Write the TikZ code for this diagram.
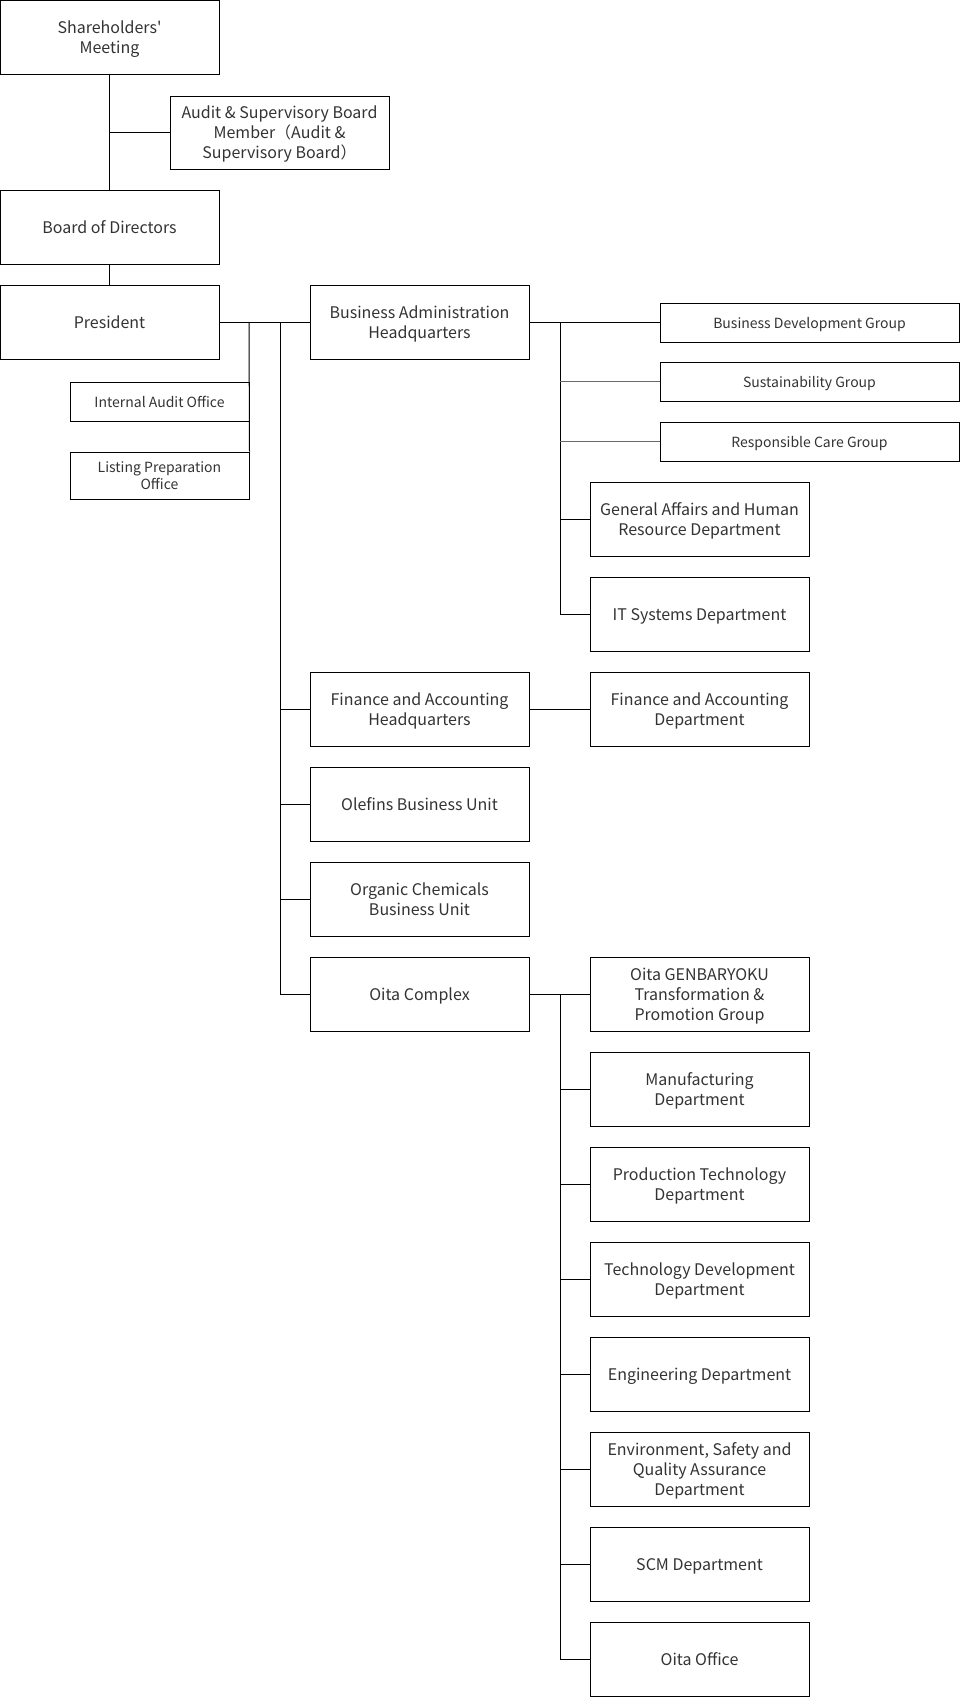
\documentclass[tikz,border=0pt]{standalone}
\usepackage{fontspec}
\setmainfont{Noto Sans CJK JP}[Ligatures=TeXOff]
\definecolor{txt}{HTML}{333333}
\definecolor{linegray}{HTML}{6A6A6A}
\newcommand\fls{\rule{0pt}{1.0625em}}
\begin{document}
\begin{tikzpicture}[x=1pt,y=-1pt,
  box/.style={draw=black, line width=1pt, text=txt, align=center, inner sep=0pt,
    font=\fontsize{16}{20}\selectfont, minimum width=219pt, minimum height=74pt,
    execute at begin node={\rule{0pt}{17pt}},
    execute at end node={\rule[-4.6pt]{0pt}{0pt}}},
  sbox/.style={box, font=\fontsize{14}{17}\selectfont,
    execute at begin node={\rule{0pt}{14.9pt}},
    execute at end node={\rule[-4pt]{0pt}{0pt}}},
  conn/.style={line width=1pt, draw=black},
  gconn/.style={line width=1pt, draw=linegray}]
\useasboundingbox (0,0) rectangle (960,1697);
% top chain
\node[box] (sh) at (109.5,37) {\fls Shareholders'\\Meeting};
\node[box, minimum height=73pt] (aud) at (279.5,132.5) {\fls Audit \& Supervisory Board\\Member（Audit \&\\Supervisory Board）};
\node[box] (bod) at (109.5,227) {Board of Directors};
\node[box] (pres) at (109.5,322.5) {President};
\node[sbox, minimum width=179pt, minimum height=39pt] (iao) at (159.5,401.5) {Internal Audit Office};
\node[sbox, minimum width=179pt, minimum height=47pt] (lpo) at (159.5,475.5) {\fls Listing Preparation\\Office};
% second column
\node[box] (bahq) at (419.5,322.5) {\fls Business Administration\\Headquarters};
\node[box] (fahq) at (419.5,709) {\fls Finance and Accounting\\Headquarters};
\node[box] (ole) at (419.5,804) {Olefins Business Unit};
\node[box] (org) at (419.5,899) {\fls Organic Chemicals\\Business Unit};
\node[box] (oc) at (419.5,994.5) {Oita Complex};
% groups
\node[sbox, minimum width=299pt, minimum height=39pt] (bdg) at (809.5,322.5) {Business Development Group};
\node[sbox, minimum width=299pt, minimum height=39pt] (sus) at (809.5,381.5) {Sustainability Group};
\node[sbox, minimum width=299pt, minimum height=39pt] (rcg) at (809.5,441.5) {Responsible Care Group};
% third column
\node[box] (gahr) at (699.5,519.5) {\fls General Affairs and Human\\Resource Department};
\node[box] (its) at (699.5,614) {IT Systems Department};
\node[box] (fad) at (699.5,709) {\fls Finance and Accounting\\Department};
\node[box] (gen) at (699.5,994.5) {\fls Oita GENBARYOKU\\Transformation \&\\Promotion Group};
\node[box] (man) at (699.5,1089) {\fls Manufacturing\\Department};
\node[box] (pt) at (699.5,1184) {\fls Production Technology\\Department};
\node[box] (td) at (699.5,1279) {\fls Technology Development\\Department};
\node[box] (eng) at (699.5,1374.5) {Engineering Department};
\node[box] (env) at (699.5,1469) {\fls Environment, Safety and\\Quality Assurance\\Department};
\node[box] (scm) at (699.5,1564) {SCM Department};
\node[box] (oo) at (699.5,1659) {Oita Office};
% junction coordinates
\coordinate (j1) at (110,132.5);
\coordinate (j2) at (249,322.5);
\coordinate (j3) at (280,322.5);
\coordinate (j4) at (560,322.5);
\coordinate (j5) at (560,994.5);
% connectors
\draw[conn] (sh.south) -- (bod.north);
\draw[conn] (j1) -- (aud.west);
\draw[conn] (bod.south) -- (pres.north);
\draw[conn] (pres.east) -- (bahq.west);
\draw[conn] (j2) -- (lpo.north east);
\draw[conn] (j3) -- (j3 |- oc.west) -- (oc.west);
\draw[conn] (j3 |- fahq.west) -- (fahq.west);
\draw[conn] (j3 |- ole.west) -- (ole.west);
\draw[conn] (j3 |- org.west) -- (org.west);
\draw[conn] (bahq.east) -- (bdg.west);
\draw[conn] (j4) -- (j4 |- its.west) -- (its.west);
\draw[gconn] (j4 |- sus.west) -- (sus.west);
\draw[gconn] (j4 |- rcg.west) -- (rcg.west);
\draw[conn] (j4 |- gahr.west) -- (gahr.west);
\draw[conn] (fahq.east) -- (fad.west);
\draw[conn] (oc.east) -- (gen.west);
\draw[conn] (j5) -- (j5 |- oo.west) -- (oo.west);
\foreach \n in {man,pt,td,eng,env,scm} {
  \draw[conn] (j5 |- \n.west) -- (\n.west);
}
\end{tikzpicture}
\end{document}
